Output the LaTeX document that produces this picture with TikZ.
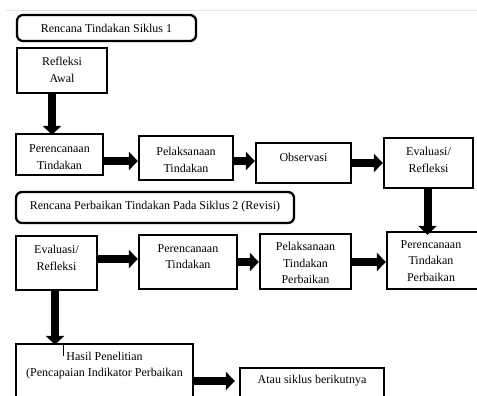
\documentclass[tikz,border=0pt]{standalone}
\usepackage{fontspec}
\setmainfont{Liberation Serif}
\usetikzlibrary{arrows.meta}
\begin{document}
\begin{tikzpicture}[x=1pt,y=-1pt,
  box/.style={draw=black,line width=2.3pt,inner sep=0pt,fill=white},
  rbox/.style={box,rounded corners=6pt},
  txt/.style={align=center,inner sep=0pt,font=\fontsize{12}{16.5}\selectfont},
  arr/.style={line width=8pt,-{Triangle[width=18pt,length=9pt]}},
]
\clip (0,0) rectangle (477,396);
\fill[white] (0,0) rectangle (477,396);
% faint screenshot line
\draw[gray!20,line width=1pt] (6,10.5) -- (477,10.5);
% boxes
\node[rbox,minimum width=179pt,minimum height=26pt] (r1) at (106.5,28) {};
\node[txt] (r1t) at (106.5,28) {Rencana Tindakan Siklus 1};
\node[box,minimum width=90pt,minimum height=45pt] (ra) at (62,70.5) {};
\node[txt] (rat) at (62,70) {Refleksi\\Awal};
\node[box,minimum width=87pt,minimum height=41pt] (pt1) at (59.5,154.5) {};
\node[txt] (pt1t) at (59.5,157) {Perencanaan\\Tindakan};
\node[box,minimum width=94pt,minimum height=44pt] (pl1) at (186,158) {};
\node[txt] (pl1t) at (186,160) {Pelaksanaan\\Tindakan};
\node[box,minimum width=95pt,minimum height=40pt] (obs) at (303.5,163) {};
\node[txt] (obst) at (303.5,157) {Observasi};
\node[box,minimum width=89pt,minimum height=50pt] (ev1) at (428.5,163) {};
\node[txt] (ev1t) at (428.5,160) {Evaluasi/\\Refleksi};
\node[rbox,minimum width=278pt,minimum height=31pt] (r2) at (155,207.5) {};
\node[txt] (r2t) at (155,206.5) {Rencana Perbaikan Tindakan Pada Siklus 2 (Revisi)};
\node[box,minimum width=81pt,minimum height=54pt] (ev2) at (56.5,263) {};
\node[txt] (ev2t) at (56.5,258) {Evaluasi/\\Refleksi};
\node[box,minimum width=98pt,minimum height=54pt] (pt2) at (188,262) {};
\node[txt] (pt2t) at (188,256.5) {Perencanaan\\Tindakan};
\node[box,minimum width=91pt,minimum height=55pt] (plp) at (305.5,261.5) {};
\node[txt] (plpt) at (305.5,263) {Pelaksanaan\\Tindakan\\Perbaikan};
\node[box,minimum width=94pt,minimum height=57pt] (ptp) at (434,260.5) {};
\node[txt] (ptpt) at (431,261) {Perencanaan\\Tindakan\\Perbaikan};
\node[box,minimum width=177pt,minimum height=76pt] (hasil) at (104.5,382) {};
\node[txt] (hasilt) at (104.5,365.5) {Hasil Penelitian\\(Pencapaian Indikator Perbaikan};
\node[box,minimum width=144pt,minimum height=50pt] (atau) at (312,393) {};
\node[txt] (ataut) at (312,381) {Atau siklus berikutnya};
% cursor mark
\draw[line width=0.8pt] (63,345) -- (63,356);
% arrows
\draw[arr] (ra.south -| 52,0) -- ([yshift=-2pt]pt1.north -| 52,0);
\draw[arr] (pt1.east |- 0,161) -- (pl1.west |- 0,161);
\draw[arr] (pl1.east |- 0,161) -- (obs.west |- 0,161);
\draw[arr] (obs.east |- 0,163) -- (ev1.west |- 0,163);
\draw[arr] (ev1.south -| 427.5,0) -- ([yshift=-4pt]ptp.north -| 427.5,0);
\draw[arr] (ev2.east |- 0,259) -- (pt2.west |- 0,259);
\draw[arr] (pt2.east |- 0,262) -- (plp.west |- 0,262);
\draw[arr] (plp.east |- 0,262) -- (ptp.west |- 0,262);
\draw[arr] (ev2.south -| 55,0) -- ([yshift=-2pt]hasil.north -| 55,0);
\draw[arr] (hasil.east |- 0,381) -- ([xshift=-4pt]atau.west |- 0,381);
\end{tikzpicture}
\end{document}
